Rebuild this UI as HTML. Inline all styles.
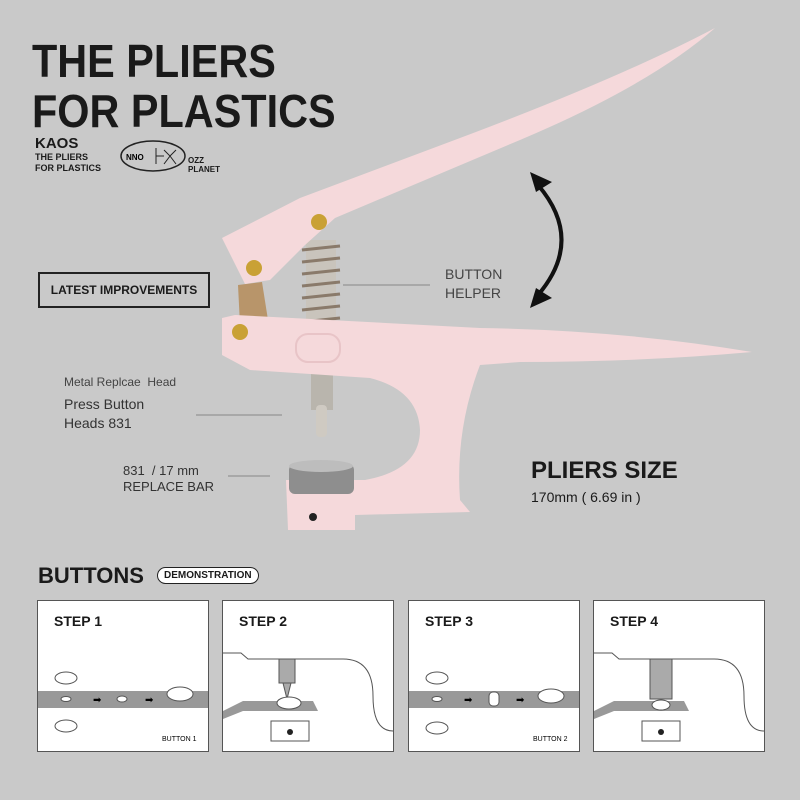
<!DOCTYPE html>
<html><head><meta charset="utf-8"><style>
body{margin:0;width:800px;height:800px;background:#c9c9c9;position:relative;overflow:hidden;font-family:"Liberation Sans",sans-serif;color:#1a1a1a}
.t{position:absolute;white-space:nowrap}
.b{font-weight:bold}
.panel{position:absolute;top:600px;width:170px;height:150px;background:#fff;border:1.5px solid #555;overflow:hidden}
.panel .s{position:absolute;left:16px;top:12px;font-weight:bold;font-size:14px}
</style></head><body>
<svg width="800" height="800" style="position:absolute;left:0;top:0">
<path d="M538,185 Q585,240 538,295" fill="none" stroke="#111" stroke-width="4"/>
<polygon points="530,172 552,182 536,192" fill="#111"/>
<polygon points="530,308 552,298 536,288" fill="#111"/>
<line x1="343" y1="285" x2="430" y2="285" stroke="#888"/>
<line x1="196" y1="415" x2="282" y2="415" stroke="#888"/>
<line x1="228" y1="476" x2="270" y2="476" stroke="#888"/>
<path d="M238,285 L262,282 L268,320 L240,325 Z" fill="#b8956a"/>
<rect x="306" y="240" width="30" height="90" fill="#c9c4bc"/>
<g stroke="#8a7a6a" stroke-width="3">
<line x1="302" y1="250" x2="340" y2="246"/><line x1="302" y1="262" x2="340" y2="258"/><line x1="302" y1="274" x2="340" y2="270"/><line x1="302" y1="286" x2="340" y2="282"/><line x1="302" y1="298" x2="340" y2="294"/><line x1="302" y1="310" x2="340" y2="306"/><line x1="302" y1="322" x2="340" y2="318"/></g>
<rect x="311" y="370" width="22" height="40" fill="#b9b5ad"/>
<rect x="316" y="405" width="11" height="32" rx="4" fill="#cfcac2"/>
<path d="M222,238 L300,198 L460,138 Q620,78 715,28 Q650,85 520,140 L335,218 L305,245 L270,280 L245,284 Z" fill="#f5d9db"/>
<path d="M222,318 L235,315 L480,328 Q620,330 752,352 Q640,362 520,362 L480,365 Q455,430 460,500 L470,512 L355,515 L355,530 L288,530 L286,480 L365,480 Q420,470 420,430 Q418,390 370,378 L250,370 L222,355 Z" fill="#f5d9db"/>
<rect x="296" y="334" width="44" height="28" rx="12" fill="none" stroke="#e8c4c7" stroke-width="2"/>
<circle cx="319" cy="222" r="8" fill="#c9a135"/><circle cx="254" cy="268" r="8" fill="#c9a135"/><circle cx="240" cy="332" r="8" fill="#c9a135"/>
<rect x="289" y="464" width="65" height="30" rx="6" fill="#8e8e8e"/>
<ellipse cx="321" cy="466" rx="32" ry="6" fill="#bdbdbd"/>
<circle cx="313" cy="517" r="4" fill="#222"/>
</svg>
<div class="t b" style="left:32px;top:36px;font-size:46px;line-height:50px;transform:scaleX(0.9);transform-origin:0 0">THE PLIERS<br>FOR PLASTICS</div>
<div class="t b" style="left:35px;top:135px;font-size:15px">KAOS</div>
<div class="t b" style="left:35px;top:152px;font-size:9px;line-height:11px">THE PLIERS<br>FOR PLASTICS</div>
<svg width="70" height="40" style="position:absolute;left:118px;top:138px"><ellipse cx="35" cy="18" rx="32" ry="15" fill="none" stroke="#222" stroke-width="1.5"/><text x="8" y="22" font-size="8" font-weight="bold" font-family="Liberation Sans">NNO</text><path d="M38,10 V26 M38,18 H46 M46,12 L52,18 L46,26 M52,18 L58,12 M52,18 L58,26" stroke="#222" fill="none"/></svg>
<div class="t b" style="left:188px;top:156px;font-size:8px;line-height:9px">OZZ<br>PLANET</div>
<div class="t b" style="left:38px;top:272px;width:168px;height:32px;border:2px solid #222;font-size:12px;line-height:32px;text-align:center">LATEST IMPROVEMENTS</div>
<div class="t" style="left:445px;top:265px;font-size:14px;line-height:19px;color:#444">BUTTON<br>HELPER</div>
<div class="t" style="left:64px;top:375px;font-size:12px;color:#444">Metal Replcae&nbsp; Head</div>
<div class="t" style="left:64px;top:395px;font-size:14px;line-height:19px;color:#333">Press Button<br>Heads 831</div>
<div class="t" style="left:123px;top:463px;font-size:13px;line-height:16px;color:#333">831&nbsp; / 17 mm<br>REPLACE BAR</div>
<div class="t b" style="left:531px;top:457px;font-size:24px">PLIERS SIZE</div>
<div class="t" style="left:531px;top:489px;font-size:14px">170mm ( 6.69 in )</div>
<div class="t b" style="left:38px;top:563px;font-size:22px">BUTTONS</div>
<div class="t b" style="left:157px;top:567px;font-size:10px;border:1.5px solid #222;border-radius:9px;padding:2px 6px;background:#fff">DEMONSTRATION</div>

<div class="panel" style="left:37px"><div class="s">STEP 1</div>
<svg width="170" height="150"><rect x="0" y="90" width="170" height="17" fill="#999"/><ellipse cx="28" cy="77" rx="11" ry="6" fill="#fff" stroke="#555"/><ellipse cx="28" cy="98" rx="5" ry="2.5" fill="#fff" stroke="#555"/><ellipse cx="28" cy="125" rx="11" ry="6" fill="#fff" stroke="#555"/><ellipse cx="84" cy="98" rx="5" ry="3" fill="#fff" stroke="#555"/><ellipse cx="142" cy="93" rx="13" ry="7" fill="#fff" stroke="#555"/><text x="55" y="102" font-size="10">➡</text><text x="107" y="102" font-size="10">➡</text><text x="124" y="140" font-size="7" font-family="Liberation Sans">BUTTON 1</text></svg></div>
<div class="panel" style="left:222px"><div class="s">STEP 2</div>
<svg width="170" height="150"><path d="M0,52 H18 L25,58 H120 Q150,58 150,95 Q150,130 170,130" fill="none" stroke="#555"/><path d="M0,110 L20,100 H90 L95,110 H20 L0,118Z" fill="#999"/><rect x="56" y="58" width="16" height="24" fill="#aaa" stroke="#555"/><path d="M60,82 L64,98 L68,82Z" fill="#aaa" stroke="#555"/><ellipse cx="66" cy="102" rx="12" ry="6" fill="#fff" stroke="#555"/><rect x="48" y="120" width="38" height="20" fill="#fff" stroke="#555"/><circle cx="67" cy="131" r="3" fill="#222"/></svg></div>
<div class="panel" style="left:408px"><div class="s">STEP 3</div>
<svg width="170" height="150"><rect x="0" y="90" width="170" height="17" fill="#999"/><ellipse cx="28" cy="77" rx="11" ry="6" fill="#fff" stroke="#555"/><ellipse cx="28" cy="98" rx="5" ry="2.5" fill="#fff" stroke="#555"/><ellipse cx="28" cy="127" rx="11" ry="6" fill="#fff" stroke="#555"/><rect x="80" y="91" width="10" height="14" rx="4" fill="#fff" stroke="#555"/><ellipse cx="142" cy="95" rx="13" ry="7" fill="#fff" stroke="#555"/><text x="55" y="102" font-size="10">➡</text><text x="107" y="102" font-size="10">➡</text><text x="124" y="140" font-size="7" font-family="Liberation Sans">BUTTON 2</text></svg></div>
<div class="panel" style="left:593px"><div class="s">STEP 4</div>
<svg width="170" height="150"><path d="M0,52 H18 L25,58 H120 Q150,58 150,95 Q150,130 170,130" fill="none" stroke="#555"/><path d="M0,110 L20,100 H90 L95,110 H20 L0,118Z" fill="#999"/><rect x="56" y="58" width="22" height="40" fill="#aaa" stroke="#555"/><ellipse cx="67" cy="104" rx="9" ry="5" fill="#fff" stroke="#555"/><rect x="48" y="120" width="38" height="20" fill="#fff" stroke="#555"/><circle cx="67" cy="131" r="3" fill="#222"/></svg></div>
</body></html>
